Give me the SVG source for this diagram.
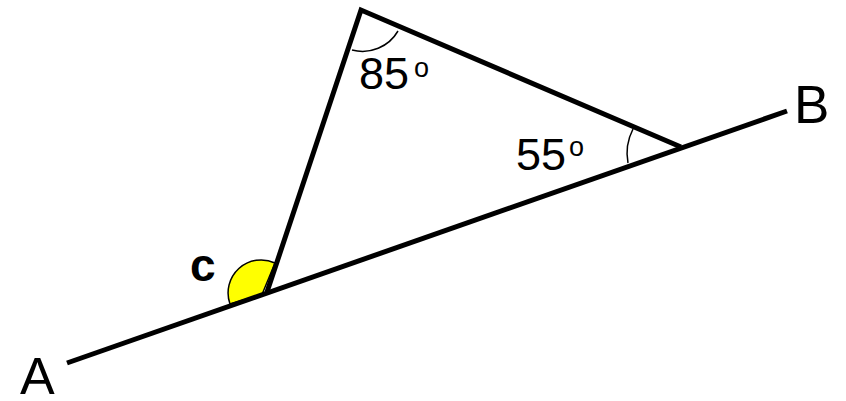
<svg xmlns="http://www.w3.org/2000/svg" width="846" height="401" viewBox="0 0 846 401">
<style>
.thick{stroke:#000;stroke-width:5;fill:none;stroke-linecap:butt;stroke-linejoin:miter}
.thin{stroke:#000;stroke-width:1.5;fill:none}
.lbl{font-family:"Liberation Sans",Arial,sans-serif;fill:#000}
</style>
<rect width="846" height="401" fill="#fff"/>
<g id="angle-c">
<path d="M262,294.5 L230,304 A33,33 0 0 1 275,263 Z" fill="#ffff00" stroke="#000" stroke-width="1.5"/>
</g>
<g id="connectors">
<line class="thick" x1="67" y1="363" x2="787" y2="111"/>
<polyline class="thick" points="267,292 361,10 681,147"/>
</g>
<g id="angle-85">
<path class="thin" d="M352,50 A41,41 0 0 0 398,31"/>
</g>
<g id="angle-55">
<path class="thin" d="M633,129 A53,53 0 0 0 628,163"/>
</g>
<g id="labels">
<text class="lbl" x="20" y="394" font-size="52">A</text>
<text class="lbl" x="794" y="123" font-size="53">B</text>
<text class="lbl" x="190" y="281" font-size="46" font-weight="bold">c</text>
<text class="lbl" x="359" y="89" font-size="45">85</text>
<text class="lbl" x="414" y="77" font-size="27">o</text>
<text class="lbl" x="516" y="170" font-size="45">55</text>
<text class="lbl" x="569" y="156" font-size="27">o</text>
</g>
</svg>
